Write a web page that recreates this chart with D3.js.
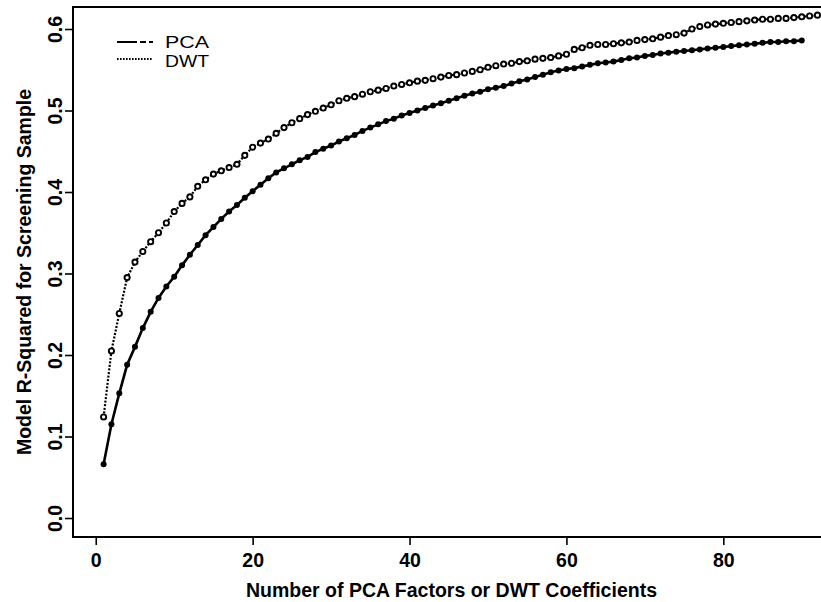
<!DOCTYPE html>
<html>
<head>
<meta charset="utf-8">
<script src="https://cdn.jsdelivr.net/npm/d3@7"></script>
<style>
  body { margin: 0; background: #fff; }
  svg { display: block; }
  text { font-family: "Liberation Sans", Arial, sans-serif; fill: #000; }
</style>
</head>
<body>
<div id="root"></div>
<script>
// model R-squared, one value per number of factors / coefficients
const pcaValues = [
  0.066, 0.115, 0.153, 0.188, 0.210, 0.233, 0.253, 0.270, 0.284, 0.296,
  0.310, 0.323, 0.335, 0.347, 0.357, 0.367, 0.376, 0.384, 0.393, 0.401,
  0.409, 0.417, 0.424, 0.429, 0.434, 0.439, 0.443, 0.449, 0.453, 0.457,
  0.462, 0.466, 0.470, 0.475, 0.479, 0.483, 0.487, 0.490, 0.494, 0.497,
  0.500, 0.503, 0.506, 0.509, 0.512, 0.515, 0.518, 0.521, 0.523, 0.526,
  0.528, 0.530, 0.533, 0.536, 0.538, 0.541, 0.544, 0.547, 0.549, 0.551,
  0.552, 0.554, 0.556, 0.558, 0.559, 0.560, 0.562, 0.564, 0.565, 0.567,
  0.568, 0.570, 0.571, 0.572, 0.573, 0.574, 0.575, 0.576, 0.577, 0.578,
  0.579, 0.580, 0.581, 0.582, 0.583, 0.584, 0.584, 0.585, 0.585, 0.586
];
const dwtValues = [
  0.124, 0.205, 0.251, 0.295, 0.314, 0.327, 0.339, 0.350, 0.362, 0.376,
  0.386, 0.394, 0.407, 0.415, 0.422, 0.426, 0.430, 0.434, 0.445, 0.455,
  0.460, 0.465, 0.472, 0.479, 0.485, 0.490, 0.495, 0.499, 0.503, 0.507,
  0.512, 0.515, 0.517, 0.520, 0.523, 0.525, 0.527, 0.530, 0.532, 0.534,
  0.536, 0.537, 0.539, 0.541, 0.543, 0.544, 0.546, 0.548, 0.550, 0.553,
  0.555, 0.557, 0.558, 0.560, 0.561, 0.563, 0.564, 0.565, 0.567, 0.569,
  0.575, 0.577, 0.580, 0.581, 0.581, 0.582, 0.583, 0.584, 0.586, 0.587,
  0.588, 0.590, 0.592, 0.593, 0.595, 0.600, 0.603, 0.605, 0.606, 0.607,
  0.608, 0.609, 0.610, 0.611, 0.612, 0.612, 0.613, 0.613, 0.614, 0.615,
  0.616, 0.617
];
const xTicks = [0, 20, 40, 60, 80];
const yTicks = [0.0, 0.1, 0.2, 0.3, 0.4, 0.5, 0.6];
const legendLabels = ["PCA", "DWT"];
const xTitle = "Number of PCA Factors or DWT Coefficients";
const yTitle = "Model R-Squared for Screening Sample";

const W = 821, H = 602;
const box = { left: 73, right: 830, top: 7, bottom: 537 };

const svg = d3.select("#root").append("svg")
  .attr("width", W)
  .attr("height", H);

const x = d3.scaleLinear().domain([-2.9, 93.6]).range([box.left, box.right]);
const y = d3.scaleLinear().domain([-0.0233, 0.627]).range([box.bottom, box.top]);

const pca = pcaValues.map((v, i) => ({ n: i + 1, r: v }));
const dwt = dwtValues.map((v, i) => ({ n: i + 1, r: v }));

const line = d3.line().x(d => x(d.n)).y(d => y(d.r));

// plot frame
svg.append("rect")
  .attr("x", box.left).attr("y", box.top)
  .attr("width", box.right - box.left).attr("height", box.bottom - box.top)
  .attr("fill", "none").attr("stroke", "#000").attr("stroke-width", 2);

// x axis
const xAxis = svg.append("g")
  .attr("transform", "translate(0," + box.bottom + ")")
  .call(d3.axisBottom(x).tickValues(xTicks).tickSize(8).tickPadding(8).tickFormat(d3.format("d")));
xAxis.select(".domain").remove();
xAxis.selectAll("line").attr("stroke-width", 1.6);
xAxis.selectAll("text")
  .style("font-family", "'Liberation Sans', Arial, sans-serif")
  .style("font-size", "19.5px").style("font-weight", "bold");

// y axis, labels turned like in R
const yAxis = svg.append("g")
  .attr("transform", "translate(" + box.left + ",0)")
  .call(d3.axisLeft(y).tickValues(yTicks).tickSize(8).tickFormat(d3.format(".1f")));
yAxis.select(".domain").remove();
yAxis.selectAll("line").attr("stroke-width", 1.6);
yAxis.selectAll("text")
  .attr("x", null).attr("dy", null)
  .attr("text-anchor", "middle")
  .attr("transform", "translate(-11,0) rotate(-90)")
  .style("font-family", "'Liberation Sans', Arial, sans-serif")
  .style("font-size", "19.5px").style("font-weight", "bold");

// titles
svg.append("text")
  .attr("x", (box.left + box.right) / 2).attr("y", 597)
  .attr("text-anchor", "middle")
  .style("font-size", "19.5px").style("font-weight", "bold")
  .text(xTitle);

svg.append("text")
  .attr("transform", "translate(31," + ((box.top + box.bottom) / 2) + ") rotate(-90)")
  .attr("text-anchor", "middle")
  .style("font-size", "19.5px").style("font-weight", "bold")
  .text(yTitle);

// series
svg.append("path")
  .datum(pca)
  .attr("d", line)
  .attr("fill", "none").attr("stroke", "#000").attr("stroke-width", 2.6);

svg.append("path")
  .datum(dwt)
  .attr("d", line)
  .attr("fill", "none").attr("stroke", "#000").attr("stroke-width", 2.2)
  .attr("stroke-dasharray", "2,1.6");

svg.append("g").selectAll("circle")
  .data(pca)
  .enter().append("circle")
  .attr("cx", d => x(d.n)).attr("cy", d => y(d.r))
  .attr("r", 3).attr("fill", "#000");

svg.append("g").selectAll("circle")
  .data(dwt)
  .enter().append("circle")
  .attr("cx", d => x(d.n)).attr("cy", d => y(d.r))
  .attr("r", 2.6).attr("fill", "#fff").attr("stroke", "#000").attr("stroke-width", 1.9);

// legend
const legend = svg.append("g");
legend.selectAll("line")
  .data(legendLabels)
  .enter().append("line")
  .attr("x1", 117).attr("x2", 153)
  .attr("y1", (d, i) => 42 + i * 17).attr("y2", (d, i) => 42 + i * 17)
  .attr("stroke", "#000")
  .attr("stroke-width", (d, i) => i === 0 ? 1.8 : 2)
  .attr("stroke-dasharray", (d, i) => i === 0 ? "20,3,6,3" : "1.6,1.4");
legend.selectAll("text")
  .data(legendLabels)
  .enter().append("text")
  .attr("x", 165).attr("y", (d, i) => 48 + i * 19)
  .attr("textLength", 44)
  .attr("lengthAdjust", "spacingAndGlyphs")
  .style("font-size", "16px")
  .text(d => d);
</script>
</body>
</html>
